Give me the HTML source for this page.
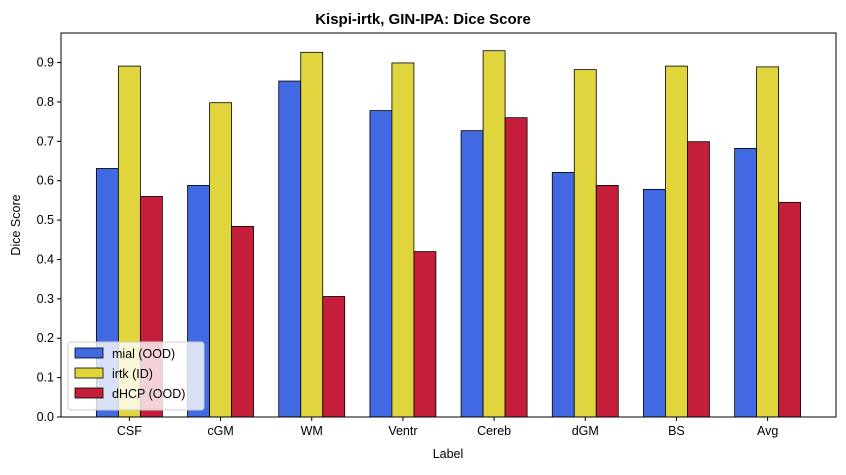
<!DOCTYPE html>
<html><head><meta charset="utf-8"><style>
body{margin:0;background:#fff;font-family:"Liberation Sans","DejaVu Sans",sans-serif;}
</style></head><body>
<svg id="chart" width="846" height="470" xmlns="http://www.w3.org/2000/svg"></svg>
<script>
const categories=["CSF","cGM","WM","Ventr","Cereb","dGM","BS","Avg"];
const mialValues=[0.631,0.588,0.853,0.778,0.727,0.621,0.578,0.682];
const irtkValues=[0.891,0.798,0.926,0.899,0.930,0.882,0.891,0.889];
const dhcpValues=[0.560,0.484,0.306,0.420,0.760,0.588,0.699,0.545];
const yTicks=[0,0.1,0.2,0.3,0.4,0.5,0.6,0.7,0.8,0.9];
const seriesNames=["mial (OOD)","irtk (ID)","dHCP (OOD)"];
const seriesColors=["#4169e1","#e1d53e","#c41e3a"];
const L=61,R=836,T=33,B=417;
const yMax=0.975;
const y=v=>B-(v/yMax)*(B-T);
const step=(R-L)/(categories.length+0.5);
const x=i=>L+step*(0.75+i);
const bw=22;
const svg=document.getElementById('chart');
const NS="http://www.w3.org/2000/svg";
function mk(tag,attrs,parent){const e=document.createElementNS(NS,tag);for(const k in attrs)e.setAttribute(k,attrs[k]);(parent||svg).appendChild(e);return e;}
let t=mk('text',{x:423,y:24,'text-anchor':'middle','font-size':15,'font-weight':'bold'});t.textContent="Kispi-irtk, GIN-IPA: Dice Score";


const all=[mialValues,irtkValues,dhcpValues];
all.forEach((vals,s)=>{vals.forEach((v,i)=>{
  const r=mk('rect',{x:x(i)+(s-1)*bw-bw/2,y:y(v),width:bw,height:B-y(v),fill:seriesColors[s],stroke:'#000','stroke-width':0.8});
  
  
});});
const frame=mk('rect',{x:L,y:T,width:R-L,height:B-T,fill:'none',stroke:'#000','stroke-width':1});


yTicks.forEach(v=>{
  mk('line',{x1:L-4,x2:L,y1:y(v),y2:y(v),stroke:'#000'});
  const tt=mk('text',{x:L-7,y:y(v)+4,'text-anchor':'end','font-size':12.5});tt.textContent=v.toFixed(1);
  
  
});
categories.forEach((c,i)=>{
  mk('line',{x1:x(i),x2:x(i),y1:B,y2:B+4,stroke:'#000'});
  const tt=mk('text',{x:x(i),y:B+18,'text-anchor':'middle','font-size':12.5});tt.textContent=c;
  
  
});
t=mk('text',{x:448,y:458,'text-anchor':'middle','font-size':12.5});t.textContent="Label";


t=mk('text',{x:20,y:225,'text-anchor':'middle','font-size':12.5,transform:'rotate(-90 20 225)'});t.textContent="Dice Score";


const lg=mk('g',{});


mk('rect',{x:68,y:342,width:136,height:68,rx:3,fill:'#fff','fill-opacity':0.8,stroke:'#ccc'},lg);
seriesNames.forEach((n,s)=>{
  const yy=348+s*20;
  const sw=mk('rect',{x:75,y:yy,width:28,height:10,fill:seriesColors[s],stroke:'#000','stroke-width':0.8},lg);
  
  
  const tt=mk('text',{x:112,y:yy+10,'font-size':12.5},lg);tt.textContent=n;
  
  
});
</script>
</body></html>
